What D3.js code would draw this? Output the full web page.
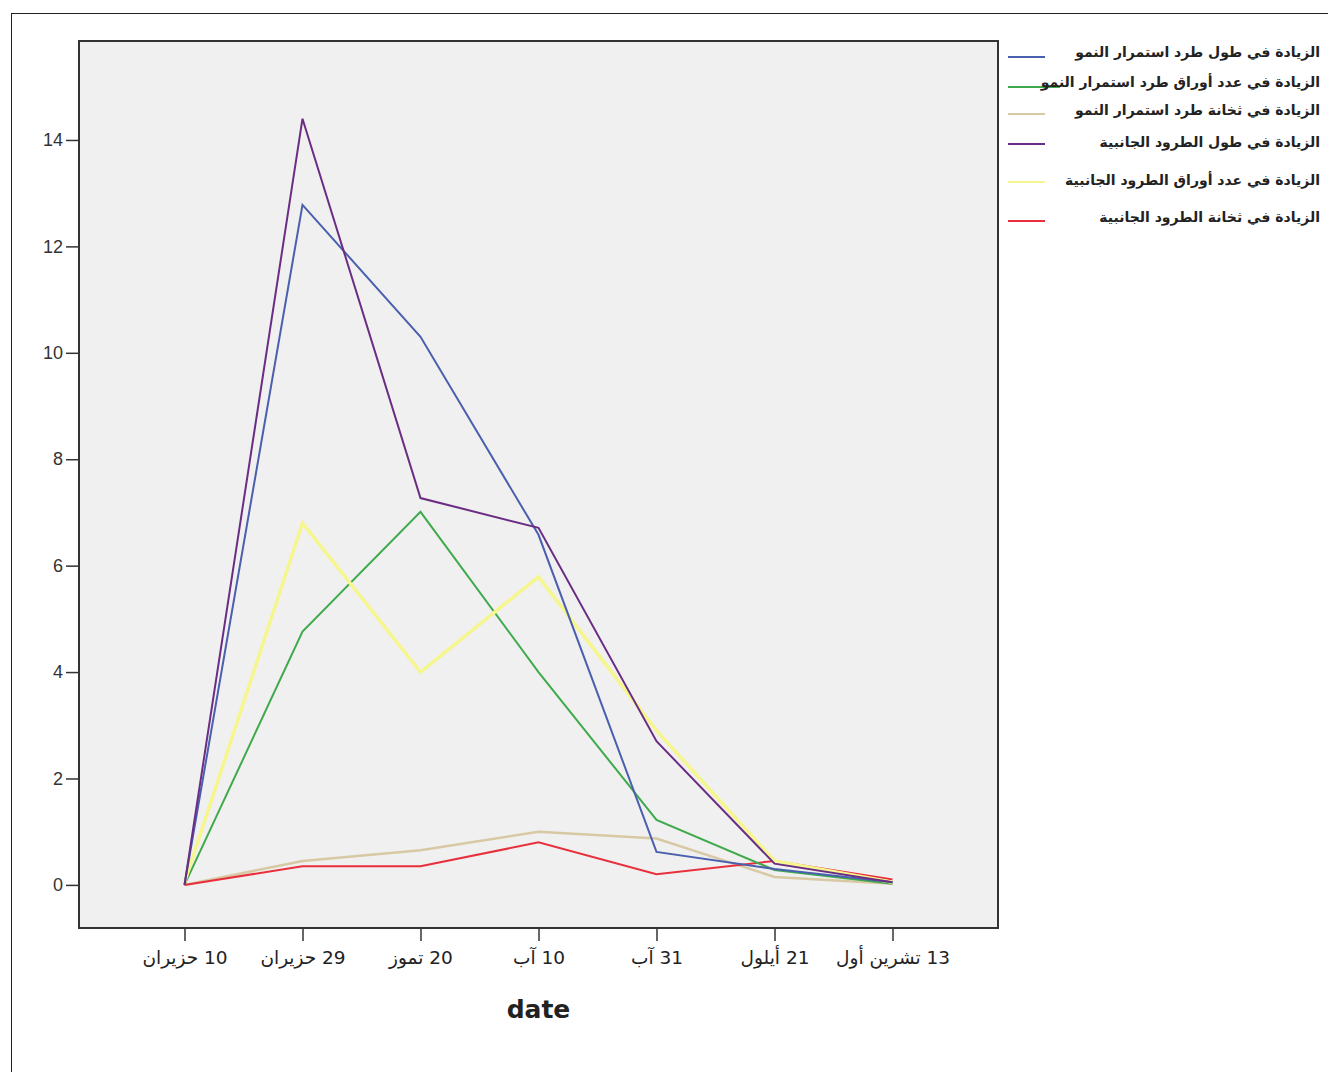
<!DOCTYPE html>
<html><head><meta charset="utf-8">
<script src="https://cdn.jsdelivr.net/npm/d3@7/dist/d3.min.js"></script>
<style>body{margin:0;background:#fff}svg{display:block}</style>
</head><body>
<svg id="c" width="1328" height="1072"></svg>
<script>
const dates = ["10 حزيران","29 حزيران","20 تموز","10 آب","31 آب","21 أيلول","13 تشرين أول"];
const yTicks = [0,2,4,6,8,10,12,14];
const seriesNames = [
  "الزيادة في طول طرد استمرار النمو",
  "الزيادة في عدد أوراق طرد استمرار النمو",
  "الزيادة في ثخانة طرد استمرار النمو",
  "الزيادة في طول الطرود الجانبية",
  "الزيادة في عدد أوراق الطرود الجانبية",
  "الزيادة في ثخانة الطرود الجانبية"
];
const lengthMain   = [0, 12.78, 10.3, 6.58, 0.62, 0.3, 0.05];
const leavesMain   = [0, 4.76, 7.01, 4.0, 1.22, 0.28, 0.02];
const thickMain    = [0, 0.45, 0.65, 1.0, 0.87, 0.15, 0.02];
const lengthSide   = [0, 14.4, 7.27, 6.71, 2.7, 0.4, 0.05];
const leavesSide   = [0.05, 6.8, 4.0, 5.79, 2.9, 0.45, 0.05];
const thickSide    = [0, 0.35, 0.35, 0.8, 0.2, 0.45, 0.1];
const seriesValues = [lengthMain, leavesMain, thickMain, lengthSide, leavesSide, thickSide];
const colors = ["#4a5fae","#3faa4c","#d8c9a4","#6b2d84","#f6f68e","#e8303c"];
const widths = [2,2,2.5,2,3.5,2];

const svg = d3.select("#c");
const L = 79, T = 41, R = 998, B = 928;

svg.append("rect").attr("x",11.5).attr("y",13.5).attr("width",1330).attr("height",1070)
  .attr("fill","none").attr("stroke","#222").attr("stroke-width",1);

const x = d3.scalePoint().domain(dates).range([L,R]).padding(0.894);
const y = d3.scaleLinear().domain([-0.81,15.86]).range([B,T]);

svg.append("rect").attr("x",L).attr("y",T).attr("width",R-L).attr("height",B-T)
  .attr("fill","#f0f0f0");

const line = d3.line().x((d,i)=>x(dates[i])).y(d=>y(d));
const order = [2,5,1,4,0,3];
order.forEach(k=>{
  svg.append("path").datum(seriesValues[k]).attr("d",line)
    .attr("fill","none").attr("stroke",colors[k]).attr("stroke-width",widths[k])
    .attr("stroke-linejoin","miter");
});

svg.append("rect").attr("x",L).attr("y",T).attr("width",R-L).attr("height",B-T)
  .attr("fill","none").attr("stroke","#333").attr("stroke-width",2);

const yAxis = svg.append("g").attr("transform",`translate(${L},0)`)
  .call(d3.axisLeft(y).tickValues(yTicks).tickSize(13).tickPadding(3).tickFormat(d3.format("d")));
yAxis.select(".domain").remove();
yAxis.selectAll(".tick line").attr("stroke","#333").attr("stroke-width",1.5);
yAxis.selectAll(".tick text").attr("font-family","Liberation Sans, Arial, sans-serif")
  .attr("font-size",18).attr("fill","#333");

const xAxis = svg.append("g").attr("transform",`translate(0,${B})`)
  .call(d3.axisBottom(x).tickSize(13).tickPadding(10));
xAxis.select(".domain").remove();
xAxis.selectAll(".tick line").attr("stroke","#333").attr("stroke-width",1.5);
xAxis.selectAll(".tick text").attr("font-family","DejaVu Sans, sans-serif")
  .attr("font-size",18.5).attr("fill","#222").attr("direction","rtl").attr("text-anchor","middle");

svg.append("text").attr("x",(L+R)/2).attr("y",1018).attr("text-anchor","middle")
  .attr("font-family","DejaVu Sans, sans-serif").attr("font-weight","bold").attr("font-size",25)
  .attr("fill","#222").text("date");

const legY = [57, 87, 114, 144, 182, 221];
const legTY = [52, 82, 110, 142, 180, 217];
const leg = svg.append("g");
seriesNames.forEach((n,i)=>{
  leg.append("line").attr("x1",1008).attr("x2", i===1?1060:1045).attr("y1",legY[i]).attr("y2",legY[i])
    .attr("stroke",colors[i]).attr("stroke-width",2);
  leg.append("text").attr("x",1320).attr("y",legTY[i]).attr("dy","0.35em")
    .attr("direction","rtl").attr("text-anchor","start")
    .attr("font-family","DejaVu Sans, sans-serif").attr("font-size",14).attr("font-weight","bold")
    .attr("fill","#222").text(n);
});
</script>
</body></html>
